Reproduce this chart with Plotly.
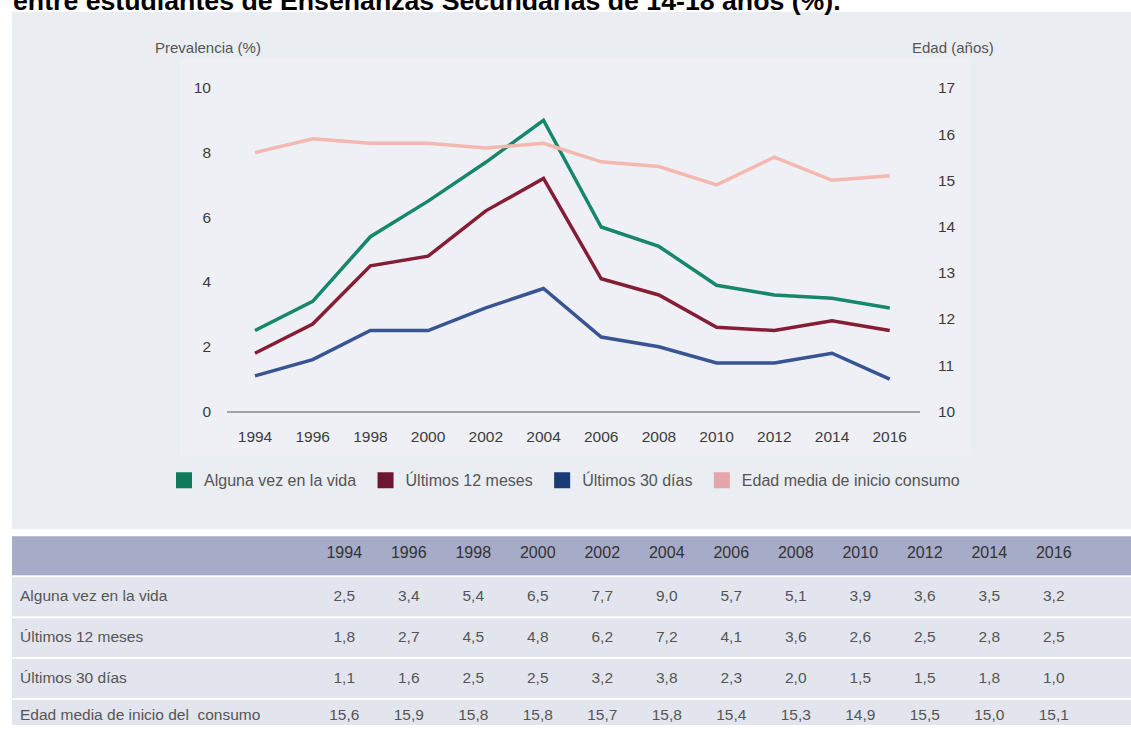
import plotly.graph_objects as go

W, H = 1131, 733
# measured rendering of the page: the figure's paper occupies rows 8..725 of the picture
TOP, PAPER_H = 8, 717

years = [1994, 1996, 1998, 2000, 2002, 2004, 2006, 2008, 2010, 2012, 2014, 2016]
alguna_vez = [2.5, 3.4, 5.4, 6.5, 7.7, 9.0, 5.7, 5.1, 3.9, 3.6, 3.5, 3.2]
ultimos_12 = [1.8, 2.7, 4.5, 4.8, 6.2, 7.2, 4.1, 3.6, 2.6, 2.5, 2.8, 2.5]
ultimos_30 = [1.1, 1.6, 2.5, 2.5, 3.2, 3.8, 2.3, 2.0, 1.5, 1.5, 1.8, 1.0]
edad_media = [15.6, 15.9, 15.8, 15.8, 15.7, 15.8, 15.4, 15.3, 14.9, 15.5, 15.0, 15.1]

legend_names = ["Alguna vez en la vida", "Últimos 12 meses", "Últimos 30 días",
                "Edad media de inicio consumo"]
table_labels = ["Alguna vez en la vida", "Últimos 12 meses", "Últimos 30 días",
                "Edad media de inicio del  consumo"]
title_text = "entre estudiantes de Enseñanzas Secundarias de 14-18 años (%)."

line_colors = ["#16876a", "#861d37", "#385492", "#f5b8b1"]
legend_colors = ["#0f7a5c", "#6e1533", "#1a3a75", "#e2a6ab"]

FONT = "Liberation Sans, Arial, sans-serif"


def px(x):
    return x / W


def py(y):
    return 1 - (y - TOP) / PAPER_H


fig = go.Figure()

series = [alguna_vez, ultimos_12, ultimos_30]
for vals, col in zip(series, line_colors[:3]):
    fig.add_trace(go.Scatter(x=years, y=vals, mode="lines",
                             line=dict(color=col, width=3.5),
                             showlegend=False, hoverinfo="skip"))
fig.add_trace(go.Scatter(x=years, y=edad_media, mode="lines", yaxis="y2",
                         line=dict(color=line_colors[3], width=3.5),
                         showlegend=False, hoverinfo="skip"))

for name, col in zip(legend_names, legend_colors):
    fig.add_trace(go.Scatter(x=[None], y=[None], mode="markers", name=name + "\u00a0",
                             marker=dict(symbol="square", size=16, color=col),
                             showlegend=True))


def fmt(v):
    return f"{v:.1f}".replace(".", ",")


colwidths = [300] + [64.5] * len(years) + [45]
aligns = ["left"] + ["center"] * (len(years) + 1)

header_vals = [""] + [str(y) for y in years] + [""]
# (fill top, fill bottom) of each table row, and how far the text block is pushed down
row_bounds = [(536, 575), (577, 616), (618, 657), (659, 698), (700, 725)]
text_push = [2, 4.5, 4.5, 4.5, 0]
header_color = "#a6acc7"
row_color = "#e2e5ee"

shapes = [
    dict(type="rect", xref="paper", yref="paper", x0=px(12), x1=1, y0=py(529), y1=py(11),
         fillcolor="#eaedf2", line=dict(width=0), layer="below"),
    dict(type="rect", xref="paper", yref="paper", x0=px(180), x1=px(970), y0=py(455), y1=py(57),
         fillcolor="#eef0f5", line=dict(width=0), layer="below"),
]
for i, (top, bot) in enumerate(row_bounds):
    shapes.append(dict(type="rect", xref="paper", yref="paper", x0=px(12), x1=1,
                       y0=max(0, py(bot)), y1=py(top),
                       fillcolor=header_color if i == 0 else row_color,
                       line=dict(width=0), layer="below"))

top, bot = row_bounds[0]
fig.add_trace(go.Table(
    domain=dict(x=[px(12), 1], y=[py(bot), py(top + text_push[0])]),
    columnwidth=colwidths,
    header=dict(values=header_vals, fill_color=header_color, align=aligns,
                line=dict(color=header_color, width=1),
                height=bot - top - text_push[0],
                font=dict(family=FONT, size=16, color="#333333")),
    cells=dict(values=[]),
))

data_rows = [alguna_vez, ultimos_12, ultimos_30, edad_media]
for i, (lab, vals) in enumerate(zip(table_labels, data_rows)):
    top, bot = row_bounds[i + 1]
    push = text_push[i + 1]
    vals_row = [lab] + [fmt(v) for v in vals] + [""]
    fig.add_trace(go.Table(
        domain=dict(x=[px(12), 1], y=[max(0, py(bot)), py(top + push)]),
        columnwidth=colwidths,
        header=dict(values=vals_row, fill_color=row_color, align=aligns,
                    line=dict(color=row_color, width=1),
                    height=bot - top - push,
                    font=dict(family=FONT, size=15.5, color="#555555")),
        cells=dict(values=[]),
    ))

annotations = [
    dict(text=title_text, xref="paper", yref="paper", x=px(11), y=py(0), xanchor="left",
         yanchor="middle", showarrow=False,
         font=dict(family=FONT, size=26.7, color="#000000", weight="bold")),
    dict(text="Prevalencia (%)", xref="paper", yref="paper", x=px(153), y=py(47),
         xanchor="left", yanchor="middle", showarrow=False,
         font=dict(family=FONT, size=15, color="#555555")),
    dict(text="Edad (años)", xref="paper", yref="paper", x=px(910), y=py(47),
         xanchor="left", yanchor="middle", showarrow=False,
         font=dict(family=FONT, size=15, color="#555555")),
]

tickfont = dict(family=FONT, size=15.5, color="#3c3c3c")

fig.update_layout(
    width=W, height=H,
    margin=dict(l=0, r=0, t=0, b=0),
    paper_bgcolor="#ffffff",
    plot_bgcolor="rgba(0,0,0,0)",
    shapes=shapes,
    annotations=annotations,
    xaxis=dict(domain=[px(227), px(920)], range=[1993.03, 2017.05],
               tickvals=years, ticktext=[str(y) for y in years],
               showgrid=False, zeroline=False, showline=True, linecolor="#a3a3a3",
               linewidth=2, ticks="", ticklabelstandoff=10, tickfont=tickfont,
               fixedrange=True),
    yaxis=dict(domain=[py(411), py(87)], range=[0, 10], tickvals=[0, 2, 4, 6, 8, 10],
               showgrid=False, zeroline=False, showline=False, ticks="",
               ticklabelstandoff=15, tickfont=tickfont, fixedrange=True),
    yaxis2=dict(domain=[py(411), py(87)], range=[10, 17], overlaying="y", side="right",
                tickvals=[10, 11, 12, 13, 14, 15, 16, 17],
                showgrid=False, zeroline=False, showline=False, ticks="",
                ticklabelstandoff=17, tickfont=tickfont, fixedrange=True),
    legend=dict(orientation="h", x=px(164), y=py(480), xanchor="left", yanchor="middle",
                bgcolor="rgba(0,0,0,0)",
                font=dict(family=FONT, size=16, color="#555555"),
                itemclick=False, itemdoubleclick=False),
    showlegend=True,
)

fig.write_html("out.html")
